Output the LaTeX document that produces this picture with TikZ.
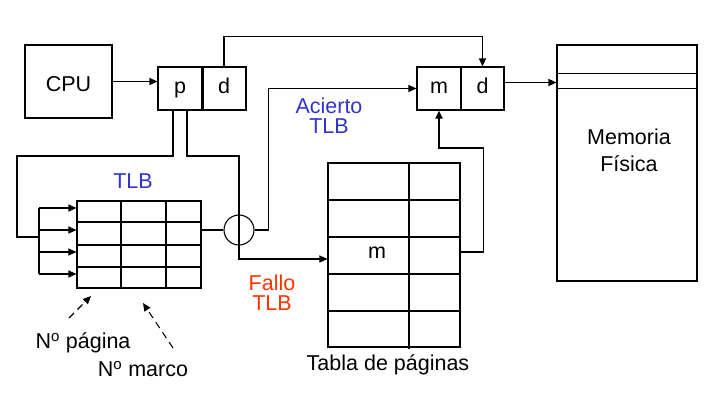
\documentclass[tikz,border=0pt]{standalone}
\usepackage{fontspec}
\setmainfont{Liberation Sans}
\usetikzlibrary{arrows.meta}
\definecolor{tlbblue}{RGB}{51,51,204}
\definecolor{fallored}{RGB}{255,51,0}
\tikzset{
  box/.style={draw,line width=1.1pt,inner sep=0pt},
  lbl/.style={font=\fontsize{21.5}{20}\selectfont,inner sep=0pt,align=center},
  cell/.style={box,lbl,minimum width=44pt,minimum height=43pt,text height=11pt,text depth=2pt},
  dashline/.style={dash pattern=on 7pt off 5pt},
  >={Triangle[length=8pt,width=7pt]}
}

\begin{document}
\begin{tikzpicture}[x=1pt,y=-1pt,line width=1.1pt]
	\useasboundingbox (0,0) rectangle (718,402);

	\node[box,lbl,minimum width=87pt,minimum height=73pt,text height=20pt,text depth=0pt] (cpu) at (68.5,81.5) {CPU};
	\node[cell] (p) at (180,88.5) {p};
	\node[cell] (d) at (224,88.5) {d};
	\draw[line width=2pt] (p.north east) -- (p.south east);
	\node[cell] (m) at (439,88.5) {m};
	\node[cell,minimum width=43pt] (md) at (482.5,88.5) {d};

	\node[box,minimum width=140pt,minimum height=236pt] (mem) at (627,163) {};
	\draw ([yshift=-29pt]mem.north west) -- ([yshift=-29pt]mem.north east);
	\draw ([yshift=-44pt]mem.north west) -- ([yshift=-44pt]mem.north east);
	\node[lbl,font=\fontsize{21.5}{27}\selectfont] (memtxt) at (629,150) {Memoria\\Física};

	\node[box,minimum width=124pt,minimum height=87pt] (tlb) at (139,244.5) {};
	\draw (121,201) -- (121,288);
	\draw (166,201) -- (166,288);
	\draw (77,222) -- (201,222);
	\draw (77,245) -- (201,245);
	\draw (77,267) -- (201,267);
	\node[lbl,text=tlbblue] (tlbtxt) at (133,181) {TLB};

	\node[draw,circle,minimum size=30pt,inner sep=0pt] (cmp) at (239,230) {};

	\node[box,minimum width=132pt,minimum height=184pt] (pt) at (394,255) {};
	\draw (328,200) -- (460,200);
	\draw[line width=2pt] (328,237) -- (460,237);
	\draw (328,274) -- (460,274);
	\draw (328,311) -- (460,311);
	\draw[line width=2pt] (409,163) -- (409,349);
	\node[lbl,text height=11pt,text depth=2pt] (pm) at (377,254) {m};
	\node[lbl] (pttxt) at (388,365) {Tabla de páginas};

	\node[lbl,text=tlbblue] (hit) at (329,116) {Acierto\\TLB};
	\node[lbl,text=fallored] (miss) at (272,293) {Fallo\\TLB};
	\node[lbl] (npag) at (83,343) {N\textsuperscript{o} página};
	\node[lbl] (nmar) at (143,369) {N\textsuperscript{o} marco};

	\coordinate (tl) at (17,156);
	\coordinate (fork) at (39,237);
	\coordinate (tr) at (239,156);
	\coordinate (r1) at ([yshift=36.5pt]tlb.west);
	\coordinate (r2) at ([yshift=14.5pt]tlb.west);
	\coordinate (r3) at ([yshift=-7.5pt]tlb.west);
	\coordinate (r4) at ([yshift=-29.5pt]tlb.west);
	\coordinate (pa1) at (69,318);
	\coordinate (pa2) at (91,296);
	\coordinate (ma1) at (173,348);
	\coordinate (ma2) at (143,303);

	\draw[->] (cpu.east) -- (cpu.east -| p.west);
	\draw[->] (d.north) -- ++(0,-30) -| (md.north);
	\draw[->] ([yshift=6pt]md.east) -- ([yshift=6pt]md.east -| mem.west);

	\draw ([xshift=-7pt]p.south) |- (tl) |- (fork);
	\draw (fork |- r1) -- (fork |- r4);
	\draw[->] (fork |- r1) -- (r1);
	\draw[->] (fork |- r2) -- (r2);
	\draw[->] (fork |- r3) -- (r3);
	\draw[->] (fork |- r4) -- (r4);

	\draw[->] ([xshift=7pt]p.south) |- (tr) |- ([yshift=-4pt]pt.west);
	\draw (cmp.west -| tlb.east) -- (cmp.west);
	\draw[->] (cmp.east) -- ++(14,0) |- (m.west);
	\draw[->,line width=1.8pt] ([yshift=3pt]pt.east) -| ++(23,-104) -| (m.south);

	\draw[->,dashline] (pa1) -- (pa2);
	\draw[->,dashline] (ma1) -- (ma2);
\end{tikzpicture}
\end{document}
